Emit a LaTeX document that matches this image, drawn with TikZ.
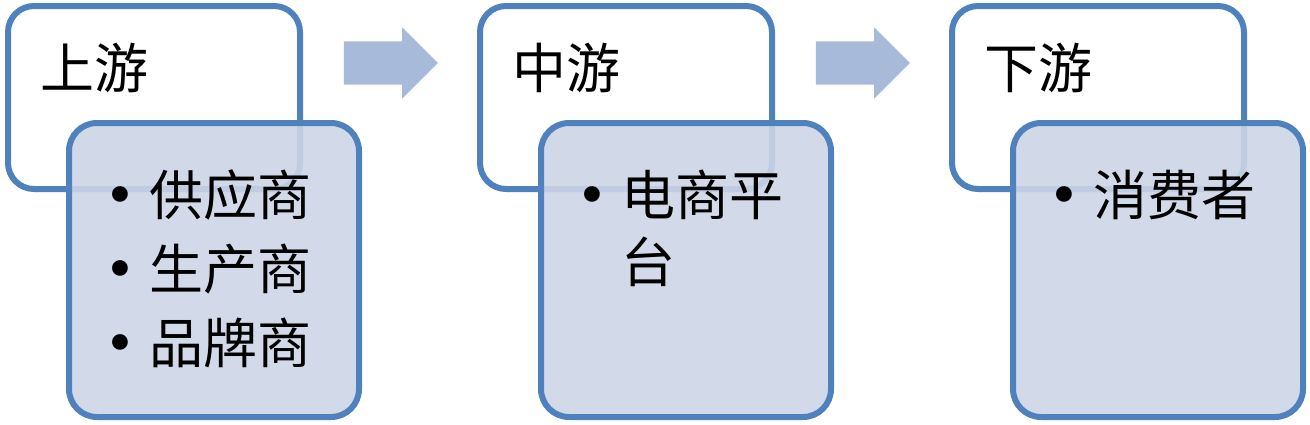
\documentclass[tikz,border=0pt]{standalone}
\usepackage{fontspec}
\setmainfont{Noto Sans CJK SC}
\newfontfamily\bulletfont{DejaVu Sans}
\usetikzlibrary{shapes.arrows, positioning, calc}
\definecolor{myBlue}{RGB}{79, 129, 189}
\definecolor{myFill}{RGB}{205, 213, 230}
\definecolor{myArrow}{RGB}{167, 186, 218}
\newcommand{\itembullet}{\raisebox{1pt}{\bulletfont •}}

\begin{document}
\begin{tikzpicture}[
    x=1pt, y=1pt,
    font=\fontsize{54}{74}\selectfont,
    % Styles
    stage_box/.style={
        draw=myBlue, line width=6pt, fill=white, rounded corners=26pt,
        minimum width=292pt, minimum height=183pt
    },
    item_box/.style={
        draw=myBlue, line width=6pt, fill=myFill, fill opacity=0.9, draw opacity=1,
        rounded corners=28pt, minimum width=290pt, minimum height=294pt
    },
    flow_arrow/.style={
        single arrow, fill=myArrow, draw=none, inner xsep=0pt, inner ysep=21.5pt,
        minimum height=94pt, single arrow head extend=14pt
    },
    stage_title/.style={anchor=base west, inner sep=0pt},
    item_list/.style={anchor=base west, inner sep=0pt}
]
    \useasboundingbox (0,0) rectangle (1310,-424);

    % --- 1. Stage boxes ---
    \node[stage_box] (up) at (154,-97.5) {};
    \node[stage_box, right=174pt of up] (mid) {};
    \node[stage_box, right=174pt of mid] (down) {};

    % --- 2. Item boxes (over the stage boxes) ---
    \node[item_box, below right=117pt and 61pt of up.north west] (upItems) {};
    \node[item_box, below right=117pt and 61pt of mid.north west] (midItems) {};
    \node[item_box, below right=117pt and 61pt of down.north west] (downItems) {};

    % --- 3. Stage titles ---
    \node[stage_title] (upTitle) at ([xshift=35pt, yshift=-85pt]up.north west) {上游};
    \node[stage_title] (midTitle) at ([xshift=35pt, yshift=-85pt]mid.north west) {中游};
    \node[stage_title] (downTitle) at ([xshift=35pt, yshift=-85pt]down.north west) {下游};

    % --- 4. Item lists ---
    \node[item_list] (upList) at ([xshift=38pt, yshift=-95pt]upItems.north west)
        {\begin{tabular}[t]{@{}l@{\hspace{13pt}}l@{}}
            \itembullet & 供应商\\
            \itembullet & 生产商\\
            \itembullet & 品牌商
        \end{tabular}};
    \node[item_list] (midList) at ([xshift=38pt, yshift=-95pt]midItems.north west)
        {\begin{tabular}[t]{@{}l@{\hspace{13pt}}l@{}}
            \itembullet & 电商平\\[-7pt]
                        & 台
        \end{tabular}};
    \node[item_list] (downList) at ([xshift=38pt, yshift=-95pt]downItems.north west)
        {\begin{tabular}[t]{@{}l@{\hspace{13pt}}l@{}}
            \itembullet & 消费者
        \end{tabular}};

    % --- 5. Flow arrows ---
    \node[flow_arrow] (arrowA) at ($(up.north east)!0.5!(mid.north west)+(-10,-60)$) {};
    \node[flow_arrow] (arrowB) at ($(mid.north east)!0.5!(down.north west)+(-10,-60)$) {};

\end{tikzpicture}
\end{document}
